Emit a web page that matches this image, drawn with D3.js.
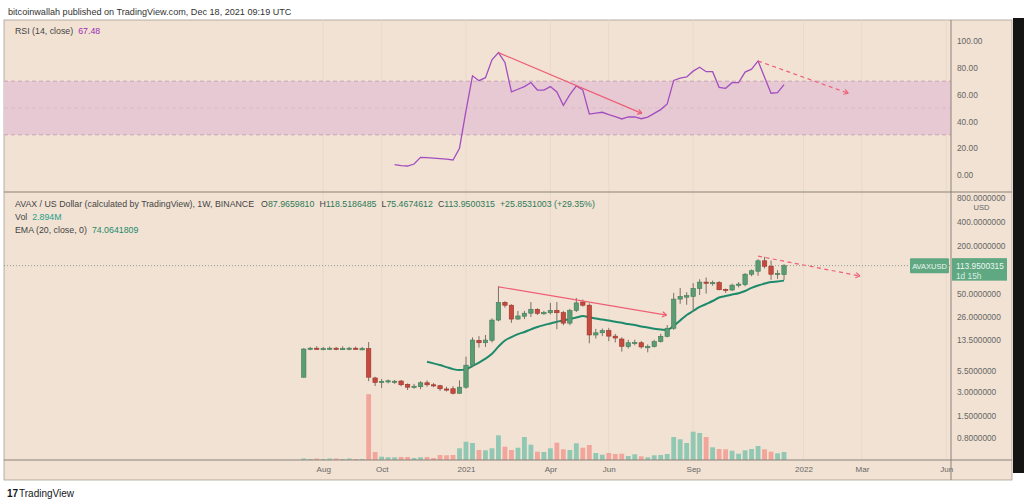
<!DOCTYPE html>
<html><head><meta charset="utf-8">
<script src="https://cdn.jsdelivr.net/npm/d3@7"></script>
<style>
body{margin:0;background:#fff;}
svg{display:block;font-family:"Liberation Sans",Arial,sans-serif;}
</style>
</head><body>
<svg id="c" width="1024" height="503"></svg>
<script>
// ---------------- DATA ----------------
// weekly bars, first bar week of 2020-07-13 (Monday), 75 bars
const firstWeek = "2020-07-13";
const openP = [4.6,10.4,10.6,10.4,10.5,10.6,10.4,10.5,10.6,10.4,
  10.45,4.5,3.98,4.05,4.05,4.12,3.75,3.5,3.5,3.92,3.7,3.6,3.28,3.3,2.9,
  3.45,6.5,13.3,12.4,13.3,23.8,39.5,36.5,24.5,26.6,29,32.4,29,29.4,31.4,29.5,21.8,31.4,40,36.5,
  15.5,16.5,17.6,15,13.8,11.1,12.3,12.4,10.9,11.1,12.8,14.9,18.8,43.5,46,47,59,71,69,70,57.5,56.5,65,66,89,97,131,112,88,87.97];
const highP = [10.6,11.0,11.2,11.0,11.1,11.0,11.2,11.0,11.1,11.0,
  12.65,4.66,4.37,4.3,4.25,4.25,3.85,3.8,4.1,4.2,3.9,3.7,3.5,3.55,4.2,
  8.3,14.5,15,15.5,25,63,41,37.5,31,31,40,33.5,31,39,40,31,33,45,43,38.5,
  18.5,18.7,19,16,14.5,13.5,13.5,13,11.8,13.5,16,20.6,52,60,53,69,77,81,74,73,59,68,71,92,102,137,147,132,100,118.5186485];
const lowP = [4.55,10.0,10.1,10.0,10.1,10.0,10.1,10.0,10.2,10.0,
  4.1,3.57,3.37,3.85,3.8,3.55,3.18,3.3,3.25,3.5,3.45,3.1,3.05,2.8,2.85,
  3.3,6.2,10.8,11,12.5,23,34,22,24,24.5,26,27.5,27.8,28,18.3,20.5,20.5,30,35,12.2,
  14,15,13,12.5,9.6,10.5,11.5,10.5,9.4,10.8,12.5,14.5,18,38,37,31,49,51,64,56,52,55,61,63,84,85,105,76,78,75.4674612];
const closeP = [10.35,10.6,10.4,10.5,10.6,10.4,10.5,10.6,10.4,10.45,
  4.6,3.95,4.08,4.15,4.1,3.7,3.45,3.55,3.92,3.7,3.6,3.3,3.25,2.9,3.45,
  6.5,13.4,12.4,13.4,23.8,39.5,36.5,24.5,26.8,29,32.5,28.9,29.5,31.4,29.4,21.8,31.4,39,36.5,15.5,
  16.5,17.6,15,14.2,11.2,12.4,12.5,11,11.1,12.8,14.9,18.8,43.5,47,48,59,71,70,70,57,56.5,65,67,89,98.5,131,112,89,91,113.9500315];
// volume in millions
const volumeM = [0.54,0.36,0.54,0.36,0.54,0.54,0.36,0.54,0.36,0.36,
  23.8,2.9,1.2,0.98,0.98,1.09,1.09,0.72,0.98,1.09,0.72,1.81,1.70,1.81,4.23,
  6.62,6.15,3.62,3.51,4.23,8.93,4.81,3.62,4.45,8.32,5.53,3.0,2.89,4.23,6.26,3.87,3.62,6.04,4.45,5.43,
  2.53,1.92,2.53,2.17,2.28,1.45,2.06,1.34,0.98,1.70,1.81,2.17,8.32,7.49,6.15,10.24,9.77,8.32,4.59,3.98,3.87,3.36,2.28,3.51,3.98,5.06,3.87,3.0,2.42,2.894];
// EMA(20) from bar 19 (week 2020-11-23) on
const emaStart = 19;
const emaVals = [7.18,6.85,6.53,6.15,5.8,5.65,5.8,6.35,7.0,7.85,9.05,11.1,13.2,14.6,15.9,16.9,18.2,19.5,20.6,21.6,22.7,23.5,24.5,25.6,26.7,25.8,
  24.9,24.2,23.5,22.7,22.0,21.2,20.6,19.8,19.2,18.5,18.2,17.9,20.1,23.5,27.5,30.9,34.7,37.8,41.2,45.6,47.6,49.7,51.5,55,60,64.3,68.1,71.2,72.3,74.0641809];
// RSI(14) from bar 14 on
const rsiStart = 14;
const rsiVals = [7.7,7.0,6.7,8.2,13.2,13.0,12.6,12.2,11.9,11.2,20,48,74,70.4,72.6,86,91.3,84,62,64,66,69,63.4,63.4,66,62,52,60,66.5,63.4,45.5,
  46.2,46.8,45,43.5,41.8,43.3,43.3,42,43.2,46,48.8,53,70.6,72.3,73.2,77.5,80.4,77.1,77.1,65.4,64.7,68.9,68.9,76.8,79,85.1,73,61,61.4,67.48];
// axis ticks
const rsiTicks = [100,80,60,40,20,0];
const priceTicks = [400,200,50,26,13.5,5.5,3,1.5,0.8];
const priceTopTick = 800;
const timeTickDates = ["2020-08-03","2020-10-05","2021-01-04","2021-04-05","2021-06-07","2021-09-06","2022-01-03","2022-03-07","2022-06-06"];
const timeTickLabels = ["Aug","Oct","2021","Apr","Jun","Sep","2022","Mar","Jun"];
// user drawings: [bar index (fractional), value]
const trendRSI = [[30, 91.3],[52.1, 46]];
const trendRSIDash = [[70, 85.1],[83.9, 61]];
const trendPrice = [[30, 62],[55.9, 27.5]];
const trendPriceDash = [[70, 150],[85.7, 84.5]];
const lastPrice = 113.9500315;

// ---------------- SETUP ----------------
const parse = d3.utcParse("%Y-%m-%d");
const week0 = parse(firstWeek);
const dateOf = i => new Date(week0.getTime() + i*7*86400000);
const dates = openP.map((_,i)=>dateOf(i));

const x = d3.scaleUtc().domain([parse("2021-01-04"), parse("2022-01-03")]).range([466, 803.5]);
const yRSI = d3.scaleLinear().domain([0,100]).range([175,41]);
const yP = d3.scaleLog().domain([0.8,400]).range([438,222]);
const yV = d3.scaleLinear().domain([0,23.8]).range([460,394.2]);

const BG="#f1e2d3", GREEN="#5c9c74", GREEN_S="#3f7b57", RED="#c6493d", RED_S="#9b3329";
const VGREEN="#90c8b4", VRED="#f2a59b";

const svg = d3.select("#c");
const X0=4, X1=951, XR=1012, Y0=20, YSEP=192, YAX=460, YB=480;

svg.append("text").attr("x",8).attr("y",15).attr("font-size",9.1).attr("fill","#333")
  .text("bitcoinwallah published on TradingView.com, Dec 18, 2021 09:19 UTC");

svg.append("rect").attr("x",X0).attr("y",Y0).attr("width",XR-X0).attr("height",YB-Y0)
  .attr("fill",BG).attr("stroke","#a89f95").attr("stroke-width",0.8);
svg.append("rect").attr("x",XR+1).attr("y",18).attr("width",1024-XR).attr("height",455).attr("fill","#141414");

const defs = svg.append("defs");
defs.append("clipPath").attr("id","cr").append("rect").attr("x",X0).attr("y",Y0).attr("width",X1-X0).attr("height",YSEP-Y0);
defs.append("clipPath").attr("id","cp").append("rect").attr("x",X0).attr("y",YSEP+1).attr("width",X1-X0).attr("height",YAX-YSEP-1);

// faint grid
const grid = svg.append("g").attr("stroke","#ead9c9").attr("stroke-width",1);
timeTickDates.forEach(d=>{ const gx=x(parse(d)); if(gx<X1) grid.append("line").attr("x1",gx).attr("x2",gx).attr("y1",Y0).attr("y2",YAX); });

// ---------------- RSI PANE ----------------
const gR = svg.append("g").attr("clip-path","url(#cr)");
gR.append("rect").attr("x",X0).attr("width",X1-X0).attr("y",yRSI(70)).attr("height",yRSI(30)-yRSI(70)).attr("fill","#e7c9d4");
[70,50,30].forEach(v=>gR.append("line").attr("x1",X0).attr("x2",X1).attr("y1",yRSI(v)).attr("y2",yRSI(v))
  .attr("stroke",v===50?"#d9b9c7":"#c9a3b6").attr("stroke-dasharray","4,3").attr("stroke-width",1));
const rsiPts = rsiVals.map((v,k)=>[x(dateOf(rsiStart+k)), yRSI(v)]);
gR.append("path").attr("d",d3.line()(rsiPts)).attr("fill","none").attr("stroke","#a24ec0").attr("stroke-width",1.3);

function arrowLine(g, pts, ys, dashed){
  const p = pts.map(([i,v])=>[x(dateOf(i)), ys(v)]);
  g.append("line").attr("x1",p[0][0]).attr("y1",p[0][1]).attr("x2",p[1][0]).attr("y2",p[1][1])
    .attr("stroke","#ee5f74").attr("stroke-width",1.2).attr("stroke-dasharray",dashed?"4,3.5":null);
  const ang = Math.atan2(p[1][1]-p[0][1], p[1][0]-p[0][0]);
  const L=5, a=0.55;
  [ang+Math.PI-a, ang+Math.PI+a].forEach(t=>{
    g.append("line").attr("x1",p[1][0]).attr("y1",p[1][1]).attr("x2",p[1][0]+L*Math.cos(t)).attr("y2",p[1][1]+L*Math.sin(t))
      .attr("stroke","#ee5f74").attr("stroke-width",1.2);
  });
}
arrowLine(gR, trendRSI, yRSI, false);
arrowLine(gR, trendRSIDash, yRSI, true);

svg.append("text").attr("x",15).attr("y",34).attr("font-size",8.8).attr("fill","#444")
  .text("RSI (14, close)").append("tspan").attr("dx",5).attr("fill","#9c2db5").text("67.48");

// RSI axis
const gRA = svg.append("g").attr("transform",`translate(${X1},0)`)
  .call(d3.axisRight(yRSI).tickValues(rsiTicks).tickFormat(d3.format(".2f")).tickSize(0).tickPadding(6));
gRA.select(".domain").remove();
gRA.selectAll("text").attr("font-size",8.3).attr("fill","#666").attr("font-family","Liberation Sans, Arial");

// ---------------- PRICE PANE ----------------
const gP = svg.append("g").attr("clip-path","url(#cp)");
// volume
const bw = 4.8;
gP.selectAll(".vol").data(volumeM).join("rect")
  .attr("x",(d,i)=>x(dates[i])-bw/2).attr("width",bw)
  .attr("y",d=>yV(d)).attr("height",d=>YAX-yV(d))
  .attr("fill",(d,i)=>closeP[i]>=openP[i]?VGREEN:VRED);
// last price line
gP.append("line").attr("x1",X0).attr("x2",X1).attr("y1",yP(lastPrice)).attr("y2",yP(lastPrice))
  .attr("stroke","#8f9a96").attr("stroke-dasharray","1,2").attr("stroke-width",1);
// EMA
const emaPts = emaVals.map((v,k)=>[x(dateOf(emaStart+k)), yP(v)]);
gP.append("path").attr("d",d3.line().curve(d3.curveMonotoneX)(emaPts)).attr("fill","none").attr("stroke","#1d8a6c").attr("stroke-width",2);
// candles
const cw = 4.4;
const cg = gP.append("g");
openP.forEach((o,i)=>{
  const cx = x(dates[i]), up = closeP[i]>=o;
  cg.append("line").attr("x1",cx).attr("x2",cx).attr("y1",yP(highP[i])).attr("y2",yP(lowP[i]))
    .attr("stroke","#7c7064").attr("stroke-width",1);
  const y1 = Math.min(yP(o), yP(closeP[i])), y2 = Math.max(yP(o), yP(closeP[i]));
  cg.append("rect").attr("x",cx-cw/2).attr("width",cw).attr("y",y1).attr("height",Math.max(1.2,y2-y1))
    .attr("fill",up?GREEN:RED).attr("stroke",up?GREEN_S:RED_S).attr("stroke-width",0.6);
});
arrowLine(gP, trendPrice, yP, false);
arrowLine(gP, trendPriceDash, yP, true);

// legend
const leg = svg.append("g").attr("font-size",8.8).attr("fill","#444");
const l1 = leg.append("text").attr("x",15).attr("y",207);
l1.append("tspan").text("AVAX / US Dollar (calculated by TradingView), 1W, BINANCE");
const VC="#2f7a58";
[["O","87.9659810"],["H","118.5186485"],["L","75.4674612"],["C","113.9500315"]].forEach(([k,v],j)=>{
  l1.append("tspan").attr("dx",j===0?7:5).text(k);
  l1.append("tspan").attr("fill",VC).text(v);
});
l1.append("tspan").attr("dx",5).attr("fill",VC).text("+25.8531003 (+29.35%)");
const l2 = leg.append("text").attr("x",15).attr("y",220);
l2.append("tspan").text("Vol");
l2.append("tspan").attr("dx",5).attr("fill","#26a08c").text("2.894M");
const l3 = leg.append("text").attr("x",15).attr("y",233);
l3.append("tspan").text("EMA (20, close, 0)");
l3.append("tspan").attr("dx",5).attr("fill","#1d8a6c").text("74.0641809");

// price axis
const gPA = svg.append("g").attr("transform",`translate(${X1},0)`)
  .call(d3.axisRight(yP).tickValues(priceTicks).tickFormat(d3.format(".7f")).tickSize(0).tickPadding(6));
gPA.select(".domain").remove();
gPA.selectAll("text").attr("font-size",8.3).attr("fill","#666").attr("font-family","Liberation Sans, Arial");
// top tick partly cut by the pane border, with the currency label under it
svg.append("text").attr("x",X1+6).attr("y",Math.max(yP(priceTopTick),197)).attr("dy","0.32em").attr("font-size",8.3).attr("fill","#666").text(d3.format(".7f")(priceTopTick));
svg.append("text").attr("x",(X1+XR)/2).attr("y",210).attr("text-anchor","middle").attr("font-size",7.6).attr("fill","#666").text("USD");

// last price tags
const yl = yP(lastPrice);
svg.append("rect").attr("x",910).attr("y",yl-7.5).attr("width",39).attr("height",15).attr("fill","#5fa882").attr("rx",1);
svg.append("text").attr("x",929.5).attr("y",yl+3).attr("text-anchor","middle").attr("font-size",7.5).attr("fill","#eef6f0").text("AVAXUSD");
svg.append("rect").attr("x",X1+1).attr("y",yl-7.5).attr("width",55).attr("height",22.5).attr("fill","#5fa882");
svg.append("text").attr("x",X1+5).attr("y",yl+3).attr("font-size",8.3).attr("fill","#eef6f0").text("113.9500315");
svg.append("text").attr("x",X1+5).attr("y",yl+13.5).attr("font-size",8.3).attr("fill","#d9eee2").text("1d 15h");

// separators
svg.append("line").attr("x1",X0).attr("x2",XR).attr("y1",YSEP).attr("y2",YSEP).attr("stroke","#8a8178").attr("stroke-width",1);
svg.append("line").attr("x1",X0).attr("x2",XR).attr("y1",YAX).attr("y2",YAX).attr("stroke","#8a8178").attr("stroke-width",1);
svg.append("line").attr("x1",X1).attr("x2",X1).attr("y1",Y0).attr("y2",YB).attr("stroke","#8a8178").attr("stroke-width",1);

// time axis
const gT = svg.append("g").attr("transform",`translate(0,${YAX})`)
  .call(d3.axisBottom(x).tickValues(timeTickDates.map(parse)).tickFormat((d,i)=>timeTickLabels[i]).tickSize(0).tickPadding(6));
gT.select(".domain").remove();
gT.selectAll("text").attr("font-size",8).attr("fill","#666").attr("font-family","Liberation Sans, Arial");

// footer logo
svg.append("text").attr("x",7).attr("y",497).attr("font-size",10).attr("font-weight","bold").attr("fill","#131722").text("17");
svg.append("text").attr("x",19).attr("y",497).attr("font-size",10).attr("fill","#131722").text("TradingView");
</script>
</body></html>
